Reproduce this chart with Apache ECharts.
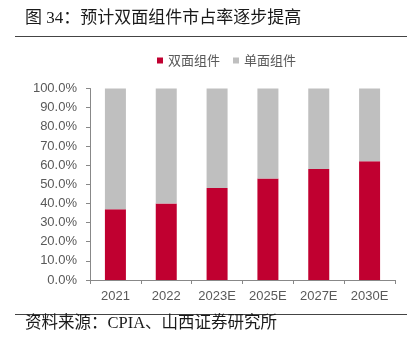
<!DOCTYPE html>
<html><head><meta charset="utf-8">
<script src="https://cdn.jsdelivr.net/npm/echarts@6/dist/echarts.min.js"></script>
<style>html,body{margin:0;padding:0;background:#fff}#c{width:414px;height:341px}</style>
</head><body><div id="c"></div>
<script>
const categories = ['2021','2022','2023E','2025E','2027E','2030E'];
const bifacial = [37, 40, 48, 53, 58, 62];
const monofacial = [63, 60, 52, 47, 42, 38];
const yTicks = [0,10,20,30,40,50,60,70,80,90,100];

const chart = echarts.init(document.getElementById('c'), null, {renderer:'canvas'});
chart.setOption({
  animation:false,
  backgroundColor:'#fff',
  graphic:[
    {type:'text', left:25, top:10, style:{text:'图 34：预计双面组件市占率逐步提高', font:'17px "Liberation Serif","Noto Sans CJK SC"', fill:'#1a1a1a'}},
    {type:'line', shape:{x1:15,y1:36.5,x2:407,y2:36.5}, style:{stroke:'#444',lineWidth:1}},
    {type:'line', shape:{x1:15,y1:314.5,x2:407,y2:314.5}, style:{stroke:'#444',lineWidth:1}},
    {type:'text', left:25, top:315, style:{text:'资料来源：CPIA、山西证券研究所', font:'16.5px "Liberation Serif","Noto Sans CJK SC"', fill:'#1a1a1a'}}
  ],
  legend:{
    top:49, left:152, itemWidth:6, itemHeight:6, itemGap:13,
    textStyle:{color:'#595959', fontSize:13, fontFamily:'Noto Sans CJK SC'},
    data:[{name:'双面组件', icon:'rect'},{name:'单面组件', icon:'rect'}]
  },
  grid:{left:90, right:19, top:88.5, bottom:61},
  xAxis:{
    type:'category', data:categories,
    axisLine:{lineStyle:{color:'#888'}},
    axisTick:{show:true, lineStyle:{color:'#888'}, length:4},
    axisLabel:{color:'#595959', fontSize:13, fontFamily:'Liberation Sans', margin:10}
  },
  yAxis:{
    type:'value', min:0, max:100, interval:10,
    axisLine:{show:true, lineStyle:{color:'#888'}},
    axisTick:{show:true, lineStyle:{color:'#888'}, length:4},
    splitLine:{show:false},
    axisLabel:{color:'#595959', fontSize:13, fontFamily:'Liberation Sans', margin:13,
      formatter:v=>v.toFixed(1)+'%'}
  },
  series:[
    {name:'双面组件', type:'bar', stack:'s', data:bifacial, barWidth:21, itemStyle:{color:'#C00030'}},
    {name:'单面组件', type:'bar', stack:'s', data:monofacial, barWidth:21, itemStyle:{color:'#BFBFBF'}}
  ]
});
</script></body></html>
